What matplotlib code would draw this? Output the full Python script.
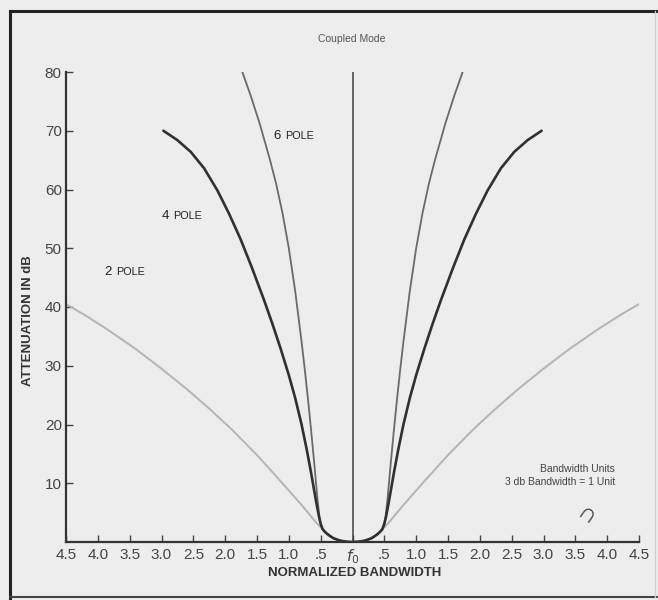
import numpy as np
import matplotlib
matplotlib.use("Agg")
import matplotlib.pyplot as plt
from matplotlib.lines import Line2D

plt.rcParams['font.family'] = ['Liberation Sans', 'DejaVu Sans']

# curve data, positive side of f0 (mirrored for the negative side)
pole6_x = [0, 0.1, 0.2, 0.3, 0.35, 0.4, 0.44, 0.47, 0.5, 0.52, 0.55, 0.6, 0.65, 0.7, 0.75, 0.8,
           0.9, 1.0, 1.1, 1.2, 1.3, 1.46, 1.6, 1.73]
pole6_y = [0, 0.05, 0.25, 0.65, 1.0, 1.4, 1.8, 2.2, 3.0, 4.3, 7.3, 13.3, 19.0, 24.4, 29.4, 34.1,
           42.7, 50.0, 56.0, 61.0, 65.2, 71.3, 76.0, 80.0]

pole4_x = [0, 0.1, 0.2, 0.3, 0.35, 0.4, 0.44, 0.47, 0.5, 0.53, 0.575, 0.65, 0.72, 0.8, 0.9, 1.0,
           1.13, 1.26, 1.39, 1.58, 1.76, 1.94, 2.12, 2.33, 2.54, 2.75, 2.97]
pole4_y = [0, 0.05, 0.25, 0.65, 1.0, 1.4, 1.8, 2.2, 3.1, 4.5, 7.1, 11.75, 15.8, 20.0, 24.5, 28.4,
           32.95, 37.2, 41.2, 46.7, 51.6, 55.9, 59.8, 63.6, 66.4, 68.4, 70.0]

pole2_x = [0, 0.1, 0.2, 0.3, 0.35, 0.4, 0.44, 0.47, 0.57, 0.8, 1.15, 1.5, 1.9, 2.25, 2.6, 3.0,
           3.4, 3.84, 4.2, 4.5]
pole2_y = [0, 0.05, 0.25, 0.65, 1.0, 1.4, 1.8, 2.2, 3.3, 6.3, 10.6, 14.8, 19.2, 22.7, 26.0, 29.5,
           32.8, 36.1, 38.6, 40.5]

xtick_pos = np.arange(-4.5, 4.51, 0.5)
xtick_labels = ['4.5', '4.0', '3.5', '3.0', '2.5', '2.0', '1.5', '1.0', '.5', '$f_0$',
                '.5', '1.0', '1.5', '2.0', '2.5', '3.0', '3.5', '4.0', '4.5']
ytick_pos = [10, 20, 30, 40, 50, 60, 70, 80]


def mirror(xs, ys):
    xs = np.array(xs)
    ys = np.array(ys)
    return np.concatenate([-xs[::-1], xs[1:]]), np.concatenate([ys[::-1], ys[1:]])


def pole_label(ax, x, y, n):
    # big digit, small-caps style "POLE"
    ax.text(x, y, n, fontsize=9.5, color='#222222', va='center')
    ax.annotate('POLE', xy=(x, y), xytext=(8.5, 0), textcoords='offset points',
                fontsize=7.8, color='#222222', va='center')


bg = '#ededed'
fig = plt.figure(figsize=(6.58, 6.0), dpi=100, facecolor=bg)
ax = fig.add_axes([66 / 658, 1 - 542 / 600, 573 / 658, 470 / 600], facecolor=bg)

x2, y2 = mirror(pole2_x, pole2_y)
x4, y4 = mirror(pole4_x, pole4_y)
x6, y6 = mirror(pole6_x, pole6_y)
ax.plot(x2, y2, color='#b4b4b4', lw=1.4, solid_capstyle='round', solid_joinstyle='round')
ax.plot(x6, y6, color='#6a6a6a', lw=1.3, solid_capstyle='round', solid_joinstyle='round')
ax.plot(x4, y4, color='#303030', lw=1.9, solid_capstyle='round', solid_joinstyle='round')
ax.plot([0, 0], [0, 80], color='#404040', lw=1.1)

ax.set_xlim(-4.5, 4.5)
ax.set_ylim(0, 80)
ax.spines['top'].set_visible(False)
ax.spines['right'].set_visible(False)
for s in ('left', 'bottom'):
    ax.spines[s].set_color('#333333')
    ax.spines[s].set_linewidth(1.6)

ax.set_xticks(xtick_pos)
ax.set_xticklabels(xtick_labels)
ax.set_yticks(ytick_pos)
ax.tick_params(direction='in', length=5, width=1, colors='#444444', labelsize=11, pad=4)
ax.tick_params(axis='y', pad=3)

# curve labels
pole_label(ax, -1.24, 69.1, '6')
pole_label(ax, -3.0, 55.5, '4')
pole_label(ax, -3.9, 46.0, '2')
ax.text(4.12, 11.3, 'Bandwidth Units\n3 db Bandwidth = 1 Unit', fontsize=7.5,
        color='#444444', ha='right', va='center', multialignment='right', linespacing=1.3)
ax.text(3.68, 4.6, '\u2229', fontsize=18, fontweight='bold', color='#333333',
        ha='center', va='center', rotation=-35)

fig.text(352 / 658, 1 - 39 / 600, 'Coupled Mode', fontsize=7.5, color='#555555', ha='center', va='center')
fig.text(28 / 658, 1 - 321 / 600, 'ATTENUATION IN dB', fontsize=9.5, fontweight='bold',
         color='#333333', rotation=90, ha='center', va='center')
fig.text(355 / 658, 1 - 573 / 600, 'NORMALIZED BANDWIDTH', fontsize=9.5, fontweight='bold',
         color='#333333', ha='center', va='center')

# page frame
fig.add_artist(Line2D([10 / 658, 10 / 658], [1 - 598 / 600, 1 - 11 / 600], color='#222222', lw=2.2))
fig.add_artist(Line2D([10 / 658, 1.0], [1 - 11 / 600, 1 - 11 / 600], color='#222222', lw=2.2))
fig.add_artist(Line2D([10 / 658, 1.0], [1 - 597 / 600, 1 - 597 / 600], color='#444444', lw=1.5))
fig.add_artist(Line2D([655 / 658, 655 / 658], [1 - 597 / 600, 1 - 11 / 600], color='#cfcfcf', lw=1.0))

fig.savefig('out.png', dpi=100, facecolor=bg)
